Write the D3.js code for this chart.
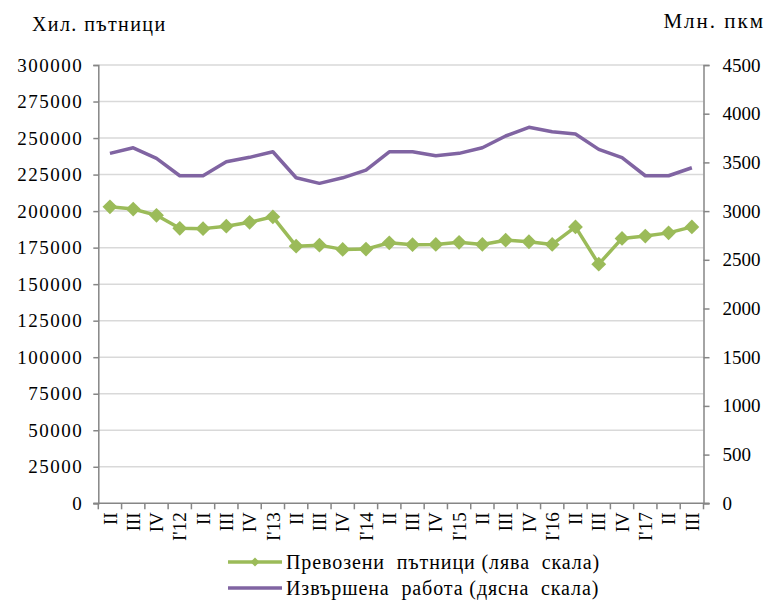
<!DOCTYPE html>
<html><head><meta charset="utf-8">
<script src="https://cdn.jsdelivr.net/npm/d3@7"></script>
<style>
html,body{margin:0;padding:0;background:#fff;overflow:hidden}
svg text{font-family:'Liberation Serif','Times New Roman','DejaVu Serif',serif !important;fill:#000}
</style></head>
<body><svg id="c" width="767" height="601"></svg>
<script>
const categories = ["II","III","IV","I'12","II","III","IV","I'13","II","III","IV","I'14","II","III","IV","I'15","II","III","IV","I'16","II","III","IV","I'17","II","III"];
const passengers = [202900,201400,197100,188200,188000,189700,192300,196100,176000,176700,173800,174000,178300,177000,177200,178600,177200,180100,179000,177200,189200,163700,181300,182900,185100,189200];
const work = [3593,3650,3541,3363,3363,3507,3552,3609,3342,3285,3342,3421,3609,3609,3568,3593,3650,3771,3860,3815,3791,3634,3548,3363,3363,3445];
const leftTicks = [0,25000,50000,75000,100000,125000,150000,175000,200000,225000,250000,275000,300000];
const rightTicks = [0,500,1000,1500,2000,2500,3000,3500,4000,4500];
const seriesNames = ["Превозени  пътници (лява  скала)", "Извършена  работа (дясна  скала)"];
const leftTitle = "Хил. пътници";
const rightTitle = "Млн. пкм";

const FONT = "'Liberation Serif','Times New Roman','DejaVu Serif',serif";
const svg = d3.select("#c");
const L = 98.3, R = 703.5, T = 65, B = 503.3;
const x = d3.scaleBand().domain(d3.range(categories.length)).range([L, R]);
const yL = d3.scaleLinear().domain([0,300000]).range([B, T]);
const yR = d3.scaleLinear().domain([0,4500]).range([B, T]);
const axisCol = "#868686";

// gridlines
svg.append("g").selectAll("line").data(leftTicks.filter(d=>d>0)).join("line")
  .attr("x1", L).attr("x2", R).attr("y1", d=>yL(d)).attr("y2", d=>yL(d))
  .attr("stroke", "#d9d9d9").attr("stroke-width", 1.5);

// left axis
const gl = svg.append("g").attr("transform", `translate(${L},0)`)
  .call(d3.axisLeft(yL).tickValues(leftTicks).tickSize(5).tickPadding(10).tickFormat(d3.format("d")));
gl.attr("font-family", FONT).attr("font-size", 19);
gl.select(".domain").attr("stroke", axisCol).attr("stroke-width", 1.5);
gl.selectAll(".tick line").attr("stroke", axisCol).attr("stroke-width", 1.5);
gl.selectAll("text").attr("letter-spacing", 1.5).attr("fill","#000");

// right axis
const gr = svg.append("g").attr("transform", `translate(${R},0)`)
  .call(d3.axisRight(yR).tickValues(rightTicks).tickSize(6).tickPadding(13).tickFormat(d3.format("d")));
gr.attr("font-family", FONT).attr("font-size", 19);
gr.select(".domain").attr("stroke", axisCol).attr("stroke-width", 1.5);
gr.selectAll(".tick line").attr("stroke", axisCol).attr("stroke-width", 1.5);
gr.selectAll("text").attr("fill","#000");

// x axis
svg.append("line").attr("x1", L-5).attr("x2", R+6).attr("y1", B).attr("y2", B)
  .attr("stroke", axisCol).attr("stroke-width", 1.5);
const bounds = d3.range(categories.length + 1).map(i => L + i * x.step());
svg.append("g").selectAll("line").data(bounds).join("line")
  .attr("x1", d=>d).attr("x2", d=>d).attr("y1", B).attr("y2", B+6)
  .attr("stroke", axisCol).attr("stroke-width", 1.5);
svg.append("g").attr("font-family", FONT).selectAll("text").data(categories).join("text")
  .attr("transform", (d,i)=>`translate(${x(i)+x.bandwidth()/2},${B+9}) rotate(-90)`)
  .attr("text-anchor", "end").attr("dy", "0.35em").attr("font-size", 19)
  .text(d=>d);

// lines
const cx = i => x(i) + x.bandwidth()/2;
svg.append("path").datum(work)
  .attr("d", d3.line().x((d,i)=>cx(i)).y(d=>yR(d)))
  .attr("fill","none").attr("stroke","#8064a2").attr("stroke-width",3.5).attr("stroke-linejoin","round");
svg.append("path").datum(passengers)
  .attr("d", d3.line().x((d,i)=>cx(i)).y(d=>yL(d)))
  .attr("fill","none").attr("stroke","#9bbb59").attr("stroke-width",3.5).attr("stroke-linejoin","round");
svg.append("g").selectAll("path").data(passengers).join("path")
  .attr("d", d3.symbol().type(d3.symbolSquare).size(110))
  .attr("transform", (d,i)=>`translate(${cx(i)},${yL(d)}) rotate(45)`)
  .attr("fill","#9bbb59");

// titles
svg.append("text").attr("font-family", FONT).attr("x", 32).attr("y", 31).attr("font-size", 20)
  .attr("letter-spacing", 1.4).text(leftTitle);
svg.append("text").attr("font-family", FONT).attr("x", 765).attr("y", 28).attr("text-anchor","end")
  .attr("font-size", 21).attr("letter-spacing", 2).text(rightTitle);

// legend
const lg = svg.append("g").attr("font-family", FONT);
const rows = [{y:562, c:"#9bbb59", m:true},{y:588, c:"#8064a2", m:false}];
rows.forEach((r,i)=>{
  lg.append("line").attr("x1",228).attr("x2",282).attr("y1",r.y).attr("y2",r.y)
    .attr("stroke",r.c).attr("stroke-width",3.5);
  if (r.m) lg.append("path").attr("d", d3.symbol().type(d3.symbolSquare).size(40))
    .attr("transform",`translate(255,${r.y}) rotate(45)`).attr("fill",r.c);
  lg.append("text").attr("x",286).attr("y",r.y).attr("dy","0.33em").attr("font-size",20)
    .attr("letter-spacing", 0.9).style("white-space","pre").text(seriesNames[i]);
});
</script></body></html>
